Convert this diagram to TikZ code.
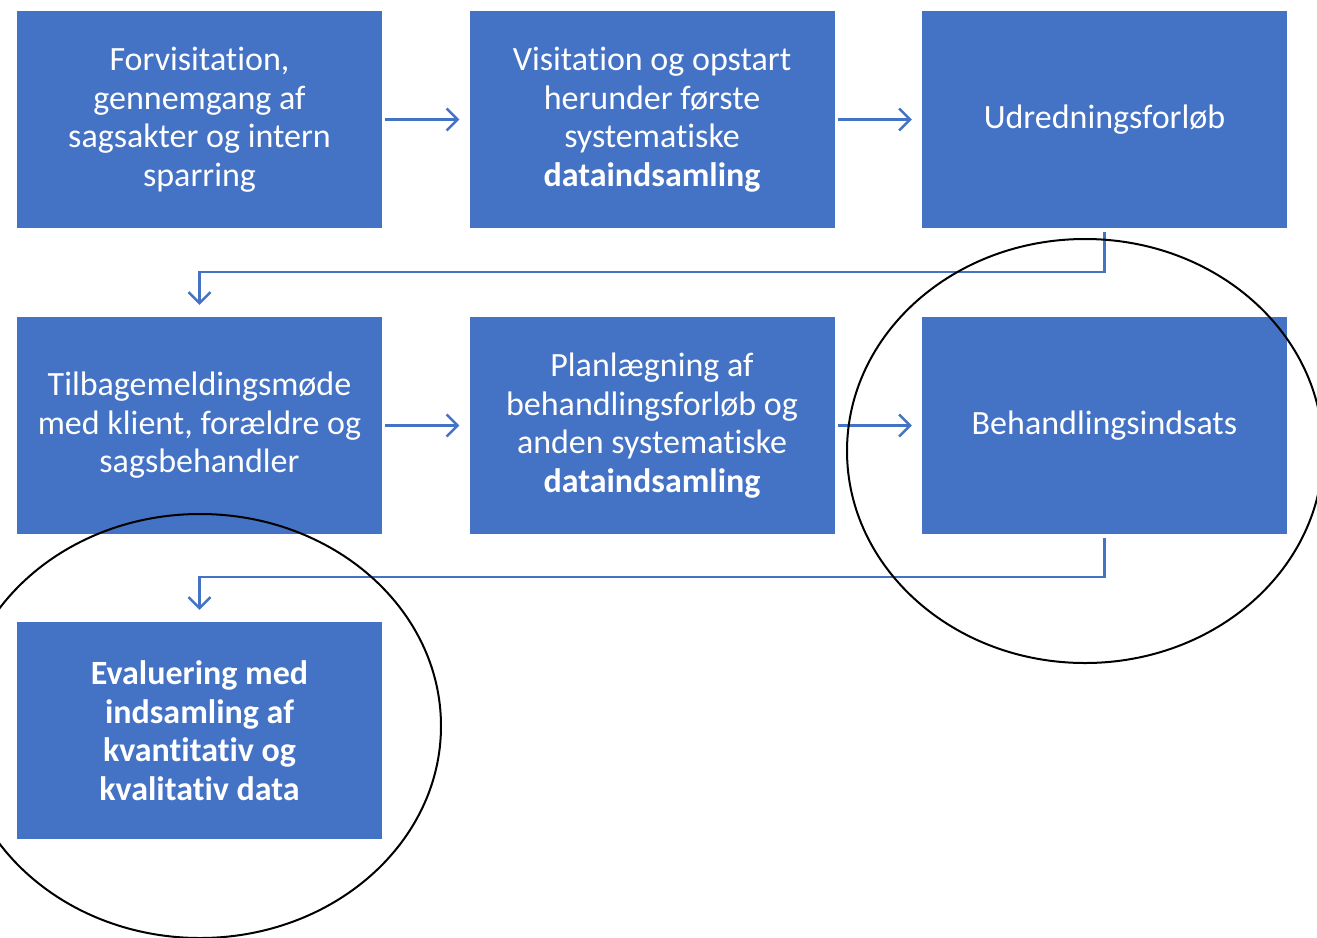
\documentclass[tikz,border=0pt]{standalone}
\usepackage{fontspec}
\setmainfont{Carlito}[Ligatures=NoCommon]
\usetikzlibrary{arrows.meta}
\definecolor{boxblue}{HTML}{4472C4}
\tikzset{
  box/.style={fill=boxblue, minimum width=365pt, minimum height=217pt, inner sep=0pt,
    text=white, align=center, font=\fontsize{34}{38.5}\selectfont},
  conn/.style={draw=boxblue, line width=2.5pt, -{Straight Barb[length=11pt,width=22pt]}},
  ring/.style={draw=black, line width=2pt}
}
\begin{document}
\begin{tikzpicture}[x=1pt,y=-1pt]
\useasboundingbox (0,0) rectangle (1317,937);
\node[box] (b1) at (199.5,119.5) {Forvisitation,\\gennemgang af\\sagsakter og intern\\sparring};
\node[box] (b2) at (652,119.5) {Visitation og opstart\\herunder første\\systematiske\\\textbf{dataindsamling}};
\node[box] (b3) at (1104.5,119.5) {Udredningsforløb};
\node[box] (b4) at (199.5,425.5) {Tilbagemeldingsmøde\\med klient, forældre og\\sagsbehandler};
\node[box] (b5) at (652,425.5) {Planlægning af\\behandlingsforløb og\\anden systematiske\\\textbf{dataindsamling}};
\node[box] (b6) at (1104.5,425.5) {Behandlingsindsats};
\node[box] (b7) at (199.5,730.5) {\textbf{Evaluering med}\\\textbf{indsamling af}\\\textbf{kvantitativ og}\\\textbf{kvalitativ data}};
\draw[conn, shorten <=3pt, shorten >=10pt] (b1) -- (b2);
\draw[conn, shorten <=3pt, shorten >=10pt] (b2) -- (b3);
\draw[conn, shorten <=3pt, shorten >=10pt] (b4) -- (b5);
\draw[conn, shorten <=3pt, shorten >=10pt] (b5) -- (b6);
\draw[conn, shorten <=4pt, shorten >=12pt] (b3.south) -- ++(0,44) -| (b4.north);
\draw[conn, shorten <=4pt, shorten >=12pt] (b6.south) -- ++(0,43) -| (b7.north);
\draw[ring] (1085,451) ellipse [x radius=238pt, y radius=212pt];
\draw[ring] (200,726) ellipse [x radius=241pt, y radius=212pt];
\end{tikzpicture}
\end{document}
